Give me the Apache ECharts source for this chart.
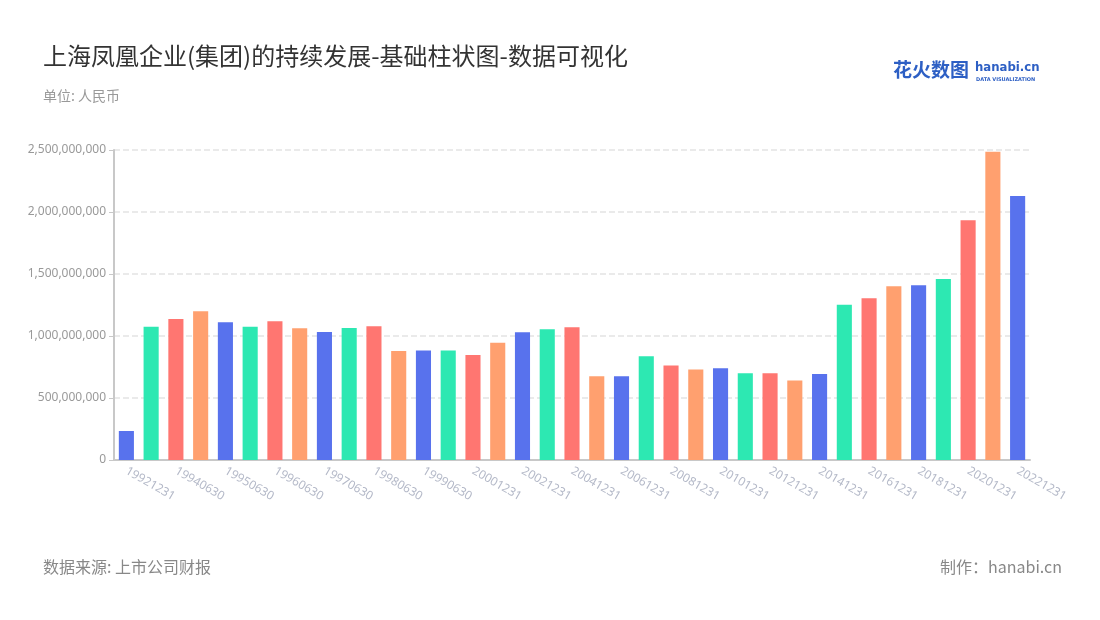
<!DOCTYPE html>
<html><head><meta charset="utf-8">
<script src="https://cdn.jsdelivr.net/npm/echarts@6/dist/echarts.min.js"></script>
<style>html,body{margin:0;padding:0;background:#fff}#c{width:1100px;height:620px}</style>
</head><body><div id="c"></div>
<script>
const categories = ['19921231','19931231','19940630','19941231','19950630','19951231','19960630','19961231','19970630','19971231','19980630','19981231','19990630','19991231','20001231','20011231','20021231','20031231','20041231','20051231','20061231','20071231','20081231','20091231','20101231','20111231','20121231','20131231','20141231','20151231','20161231','20171231','20181231','20191231','20201231','20211231','20221231'];
const values = [234e6,1075e6,1137e6,1199e6,1110e6,1075e6,1118e6,1062e6,1032e6,1065e6,1078e6,879e6,884e6,884e6,847e6,946e6,1030e6,1054e6,1070e6,675e6,675e6,836e6,763e6,729e6,739e6,699e6,699e6,642e6,694e6,1253e6,1304e6,1401e6,1409e6,1460e6,1933e6,2486e6,2129e6];
const palette = ['#5872ED','#2DE8B2','#FF7671','#FFA06F'];

const chart = echarts.init(document.getElementById('c'));
chart.setOption({
  backgroundColor:'#fff',
  animation:false,
  title:[
    {text:'上海凤凰企业(集团)的持续发展-基础柱状图-数据可视化',left:38,top:39,textStyle:{fontSize:24,fontWeight:'normal',color:'#333',fontFamily:'Noto Sans CJK SC'}},
    {text:'单位: 人民币',left:38,top:84,textStyle:{fontSize:14,fontWeight:'normal',color:'#999',fontFamily:'Noto Sans CJK SC'}},
    {text:'数据来源: 上市公司财报',left:38,top:554,textStyle:{fontSize:16,fontWeight:'normal',color:'#888',fontFamily:'Noto Sans CJK SC'}},
    {text:'制作：hanabi.cn',right:33,top:554,textStyle:{fontSize:16,fontWeight:'normal',color:'#888',fontFamily:'Noto Sans CJK SC'}}
  ],
  graphic:[
    {type:'text',left:893,top:60,style:{text:'花火数图',font:'bold 19px "Noto Sans CJK SC"',fill:'#2d5fc4'}},
    {type:'text',left:975,top:61,style:{text:'hanabi.cn',font:'bold 13px "DejaVu Sans Condensed"',fill:'#2d5fc4'}},
    {type:'text',left:976,top:77,style:{text:'DATA VISUALIZATION',font:'bold 5px "DejaVu Sans"',fill:'#2d5fc4'}}
  ],
  grid:{left:114,right:70,top:150,bottom:160,containLabel:false},
  xAxis:{
    type:'category',data:categories,
    axisLine:{lineStyle:{color:'#c8c8c8',width:2}},
    axisTick:{alignWithLabel:true,interval:1,lineStyle:{color:'#aaa'}},
    axisLabel:{interval:1,rotate:-30,color:'#b4b9c8',fontSize:12,fontFamily:'Noto Sans',margin:10}
  },
  yAxis:{
    type:'value',min:0,max:2500000000,interval:500000000,
    axisLine:{show:true,lineStyle:{color:'#c8c8c8',width:2}},
    axisTick:{show:true,lineStyle:{color:'#c8c8c8'}},
    axisLabel:{color:'#999',fontSize:12,fontFamily:'Noto Sans',formatter:v=>v.toLocaleString('en-US')},
    splitLine:{lineStyle:{type:'dashed',color:'#e3e3e3',width:1.5}}
  },
  series:[{
    type:'bar',barWidth:'61%',
    data:values.map((v,i)=>({value:v,itemStyle:{color:palette[i%4]}}))
  }]
});
</script></body></html>
